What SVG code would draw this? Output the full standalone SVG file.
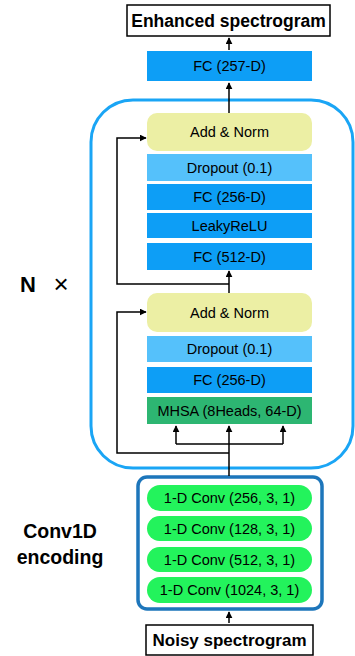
<svg xmlns="http://www.w3.org/2000/svg" width="355" height="656" viewBox="0 0 355 656">
<style>
text{font-family:"Liberation Sans",Arial,sans-serif;fill:#000;text-anchor:middle;dominant-baseline:central}
.t{font-size:14.5px}
.b{font-weight:bold}
.fc{fill:#0d9ef6}
.dp{fill:#55c1fb}
.an{fill:#ecefa4}
.cv{fill:#23f35c}
.ln{fill:none;stroke:#000;stroke-width:1.5}
</style>
<defs>
<marker id="ah" viewBox="0 0 10 10" refX="9" refY="5" markerWidth="7" markerHeight="7" orient="auto" markerUnits="userSpaceOnUse">
<path d="M0,0 L10,5 L0,10 z" fill="#000"/>
</marker>
</defs>
<rect x="91" y="100" width="262" height="368" rx="42" fill="none" stroke="#1aa5f5" stroke-width="3"/>
<rect x="138" y="477" width="184" height="132" rx="9" fill="none" stroke="#1d76bb" stroke-width="3.5"/>
<g id="connectors">
<path class="ln" d="M229,623 L229,612" marker-end="url(#ah)"/>
<path class="ln" d="M229,476 L229,426" marker-end="url(#ah)"/>
<path class="ln" d="M176,444 L283,444"/>
<path class="ln" d="M176,444 L176,426" marker-end="url(#ah)"/>
<path class="ln" d="M283,444 L283,426" marker-end="url(#ah)"/>
<path class="ln" d="M229,453 L117,453 L117,312 L146,312" marker-end="url(#ah)"/>
<path class="ln" d="M229,293 L229,271" marker-end="url(#ah)"/>
<path class="ln" d="M229,284 L117,284 L117,138 L146,138" marker-end="url(#ah)"/>
<path class="ln" d="M229,113 L229,83" marker-end="url(#ah)"/>
<path class="ln" d="M229,50 L229,38" marker-end="url(#ah)"/>
</g>
<g id="enhanced"><rect x="127" y="5" width="203" height="31" fill="#fff" stroke="#000" stroke-width="1.5"/><text x="228.5" y="21" class="b" font-size="17.5">Enhanced spectrogram</text></g>
<g id="fc257"><rect class="fc" x="147" y="51" width="165" height="30"/><text class="t" x="229.5" y="66">FC (257-D)</text></g>
<g id="addnorm2"><rect class="an" x="147" y="113" width="165" height="38" rx="10"/><text class="t" x="229.5" y="132">Add &amp; Norm</text></g>
<g id="dropout2"><rect class="dp" x="147" y="154" width="165" height="27"/><text class="t" x="229.5" y="167.5">Dropout (0.1)</text></g>
<g id="fc256b"><rect class="fc" x="147" y="184" width="165" height="26"/><text class="t" x="229.5" y="197">FC (256-D)</text></g>
<g id="leaky"><rect class="fc" x="147" y="213" width="165" height="25"/><text class="t" x="229.5" y="225.5">LeakyReLU</text></g>
<g id="fc512"><rect class="fc" x="147" y="243" width="165" height="27"/><text class="t" x="229.5" y="256.5">FC (512-D)</text></g>
<g id="addnorm1"><rect class="an" x="147" y="293" width="165" height="39" rx="10"/><text class="t" x="229.5" y="312.5">Add &amp; Norm</text></g>
<g id="dropout1"><rect class="dp" x="147" y="336" width="165" height="26"/><text class="t" x="229.5" y="349">Dropout (0.1)</text></g>
<g id="fc256a"><rect class="fc" x="147" y="367" width="165" height="26"/><text class="t" x="229.5" y="380">FC (256-D)</text></g>
<g id="mhsa"><rect fill="#2db672" x="147" y="397" width="165" height="27"/><text class="t" x="229.5" y="410.5">MHSA (8Heads, 64-D)</text></g>
<g id="conv1"><rect class="cv" x="147" y="485" width="165" height="26" rx="13"/><text class="t" x="229.5" y="498">1-D Conv (256, 3, 1)</text></g>
<g id="conv2"><rect class="cv" x="147" y="516" width="165" height="25" rx="12.5"/><text class="t" x="229.5" y="528.5">1-D Conv (128, 3, 1)</text></g>
<g id="conv3"><rect class="cv" x="147" y="547" width="165" height="25" rx="12.5"/><text class="t" x="229.5" y="559.5">1-D Conv (512, 3, 1)</text></g>
<g id="conv4"><rect class="cv" x="147" y="577" width="165" height="26" rx="13"/><text class="t" x="229.5" y="590">1-D Conv (1024, 3, 1)</text></g>
<g id="noisy"><rect x="146" y="625" width="167" height="30" fill="#fff" stroke="#000" stroke-width="1.5"/><text x="229.5" y="640" class="b" font-size="17">Noisy spectrogram</text></g>
<g id="nx"><text x="28" y="284" class="b" font-size="22">N</text><text x="61" y="284" font-size="26">×</text></g>
<g id="convlabel"><text x="60" y="531" class="b" font-size="19.5">Conv1D</text><text x="60" y="557" class="b" font-size="19.5">encoding</text></g>
</svg>
